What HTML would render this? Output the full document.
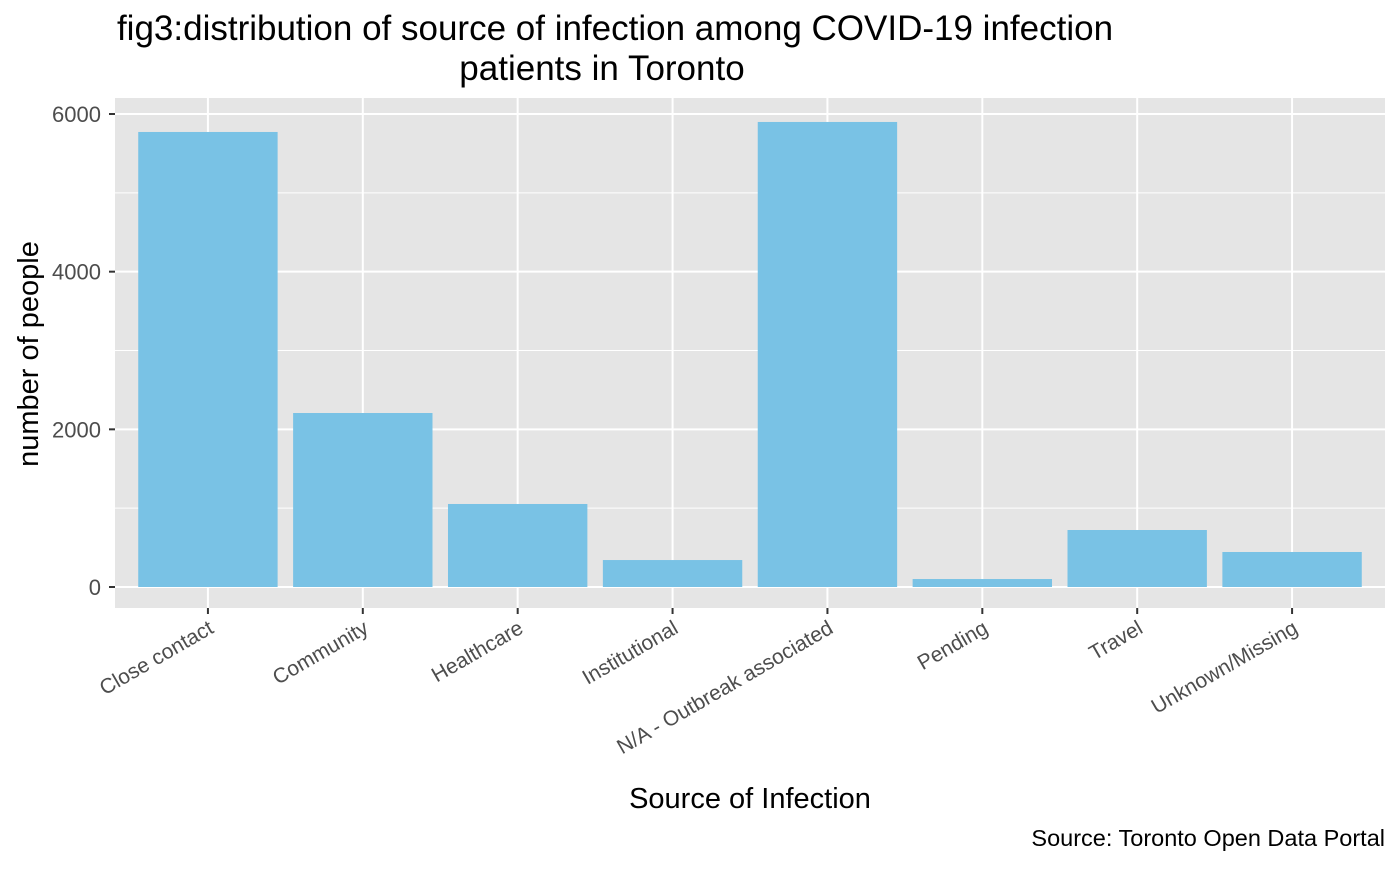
<!DOCTYPE html>
<html><head><meta charset="utf-8"><style>
body{margin:0;background:#fff;}
svg text{font-family:"Liberation Sans",Arial,sans-serif;}
</style></head><body>
<svg id="chart" width="1400" height="865" xmlns="http://www.w3.org/2000/svg">
<rect width="1400" height="865" fill="#fff"/>
<text x="615" y="40" font-size="35" text-anchor="middle" fill="#000">fig3:distribution of source of infection among COVID-19 infection</text>
<text x="602" y="80" font-size="35" text-anchor="middle" fill="#000">patients in Toronto</text>
<rect x="115" y="98" width="1270" height="510" fill="#e5e5e5"/>
<g id="grid"></g><g id="bars"></g><g id="axes"></g>
<text transform="translate(38,354) rotate(-90)" font-size="29" text-anchor="middle" fill="#000">number of people</text>
<text x="750" y="808" font-size="29" text-anchor="middle" fill="#000">Source of Infection</text>
<text x="1385" y="846" font-size="23.5" text-anchor="end" fill="#000">Source: Toronto Open Data Portal</text>
</svg>
<script>
const categories=["Close contact","Community","Healthcare","Institutional","N/A - Outbreak associated","Pending","Travel","Unknown/Missing"];
const values=[5772,2207,1053,342,5899,101,723,444];
const yTicks=[0,2000,4000,6000];
const yMinor=[1000,3000,5000];
const NS="http://www.w3.org/2000/svg";
const px0=115,px1=1385,py0=608,py1=98;
const yScale=v=>587-v*(473/6000);
const step=(px1-px0)/(categories.length+0.2);
const xScale=i=>px0+step*(0.6+i);
const bw=step*0.9;
function mk(tag,attrs,parent){const e=document.createElementNS(NS,tag);for(const k in attrs)e.setAttribute(k,attrs[k]);parent.appendChild(e);return e;}
const grid=document.getElementById('grid'),bars=document.getElementById('bars'),axes=document.getElementById('axes');
yMinor.forEach(v=>{const l=mk('line',{x1:px0,x2:px1,y1:yScale(v),y2:yScale(v),stroke:'#fff','stroke-width':1},grid);

});
yTicks.forEach(v=>{const l=mk('line',{x1:px0,x2:px1,y1:yScale(v),y2:yScale(v),stroke:'#fff','stroke-width':2},grid);


const t=mk('text',{x:101,y:yScale(v)+8,'font-size':22,'text-anchor':'end',fill:'#4d4d4d'},axes);t.textContent=v;


const tk=mk('line',{x1:109,x2:115,y1:yScale(v),y2:yScale(v),stroke:'#333','stroke-width':2},axes);

});
categories.forEach((c,i)=>{const x=xScale(i);
const g=mk('line',{x1:x,x2:x,y1:py1,y2:py0,stroke:'#fff','stroke-width':2},grid);


const r=mk('rect',{x:x-bw/2,y:yScale(values[i]),width:bw,height:yScale(0)-yScale(values[i]),fill:'#79c2e5'},bars);


const tk=mk('line',{x1:x,x2:x,y1:py0,y2:py0+6,stroke:'#333','stroke-width':2},axes);


const t=mk('text',{transform:`translate(${x+7},${py0+24}) rotate(-30)`,'font-size':21,'text-anchor':'end',fill:'#4d4d4d'},axes);t.textContent=c;

});
</script>
</body></html>
